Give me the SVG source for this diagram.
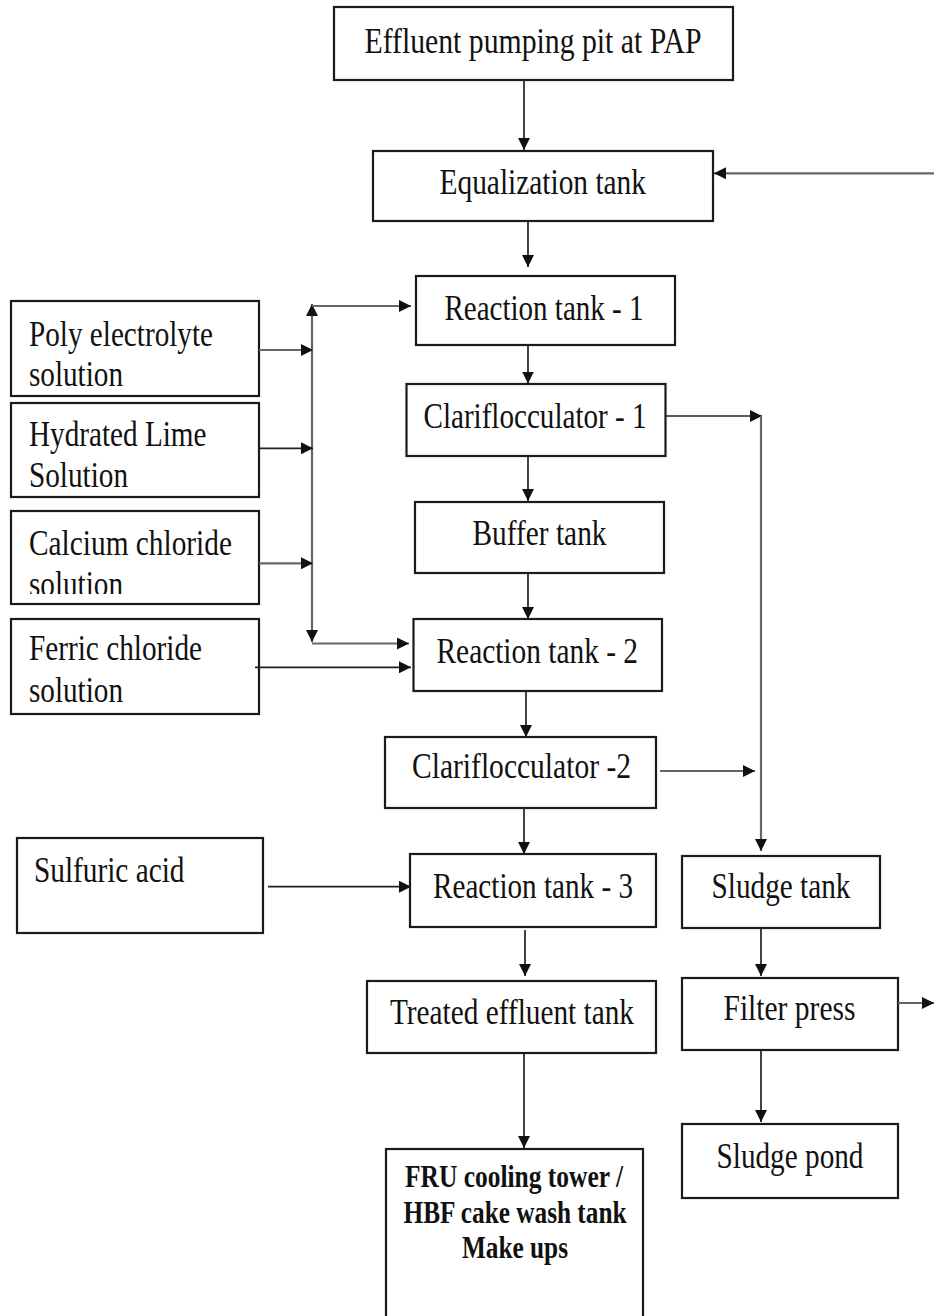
<svg xmlns="http://www.w3.org/2000/svg" width="934" height="1316" viewBox="0 0 934 1316">
<style>
.box{fill:#fff;stroke:#1a1a1a;stroke-width:2.2}
.t{font-size:36px;fill:#111}
.b{font-weight:bold;font-size:32px;text-anchor:middle}
.c{fill:none;stroke:#222;stroke-width:1.7;marker-end:url(#ah)}
.g{fill:none;stroke:#666;stroke-width:2.2;marker-end:url(#ah)}
</style>
<defs>
<marker id="ah" markerUnits="userSpaceOnUse" markerWidth="13" markerHeight="12" viewBox="0 0 13 12" refX="12" refY="6" orient="auto-start-reverse">
<path d="M0,0 L12,6 L0,12 Z" fill="#111"/>
</marker>
<clipPath id="clipCa"><rect x="11" y="511" width="248" height="83"/></clipPath>
</defs>
<g id="diagram" font-family="Liberation Serif">
<g id="n-effluent"><rect class="box" x="334" y="7" width="399" height="73"/><text class="t" x="364.5" y="53" textLength="337" lengthAdjust="spacingAndGlyphs">Effluent pumping pit at PAP</text></g>
<g id="n-equalization"><rect class="box" x="373" y="151" width="340" height="70"/><text class="t" x="439.5" y="194" textLength="206.5" lengthAdjust="spacingAndGlyphs">Equalization tank</text></g>
<g id="n-rt1"><rect class="box" x="416" y="276" width="259" height="69"/><text class="t" x="444.5" y="320" textLength="199" lengthAdjust="spacingAndGlyphs">Reaction tank - 1</text></g>
<g id="n-c1"><rect class="box" x="406.5" y="384" width="259" height="72"/><text class="t" x="423.5" y="428" textLength="223" lengthAdjust="spacingAndGlyphs">Clariflocculator - 1</text></g>
<g id="n-buffer"><rect class="box" x="415" y="502" width="249" height="71"/><text class="t" x="472.5" y="545" textLength="134" lengthAdjust="spacingAndGlyphs">Buffer tank</text></g>
<g id="n-rt2"><rect class="box" x="413.5" y="619" width="248.5" height="72"/><text class="t" x="436.5" y="663" textLength="201.5" lengthAdjust="spacingAndGlyphs">Reaction tank - 2</text></g>
<g id="n-c2"><rect class="box" x="385" y="737" width="271" height="71"/><text class="t" x="412" y="778" textLength="219" lengthAdjust="spacingAndGlyphs">Clariflocculator -2</text></g>
<g id="n-rt3"><rect class="box" x="410" y="854" width="246" height="73"/><text class="t" x="433" y="898" textLength="200" lengthAdjust="spacingAndGlyphs">Reaction tank - 3</text></g>
<g id="n-treated"><rect class="box" x="367" y="981" width="289" height="72"/><text class="t" x="390" y="1024" textLength="244" lengthAdjust="spacingAndGlyphs">Treated effluent tank</text></g>
<g id="n-fru"><rect class="box" x="386" y="1149" width="257" height="190"/>
<text class="t b" x="514" y="1186.7" textLength="218" lengthAdjust="spacingAndGlyphs">FRU cooling tower /</text>
<text class="t b" x="515" y="1223.3" textLength="223" lengthAdjust="spacingAndGlyphs">HBF cake wash tank</text>
<text class="t b" x="515" y="1258.3" textLength="106" lengthAdjust="spacingAndGlyphs">Make ups</text></g>
<g id="n-sludgetank"><rect class="box" x="682" y="856" width="198" height="72"/><text class="t" x="711.5" y="898" textLength="139" lengthAdjust="spacingAndGlyphs">Sludge tank</text></g>
<g id="n-filterpress"><rect class="box" x="682" y="978" width="216" height="72"/><text class="t" x="723.5" y="1020" textLength="132" lengthAdjust="spacingAndGlyphs">Filter press</text></g>
<g id="n-sludgepond"><rect class="box" x="682" y="1124" width="216" height="74"/><text class="t" x="716.5" y="1168" textLength="147" lengthAdjust="spacingAndGlyphs">Sludge pond</text></g>
<g id="n-poly"><rect class="box" x="11" y="301" width="248" height="95"/><text class="t" x="29" y="345.7" textLength="184" lengthAdjust="spacingAndGlyphs">Poly electrolyte</text><text class="t" x="29" y="386" textLength="94" lengthAdjust="spacingAndGlyphs">solution</text></g>
<g id="n-lime"><rect class="box" x="11" y="403" width="248" height="94"/><text class="t" x="29" y="445.7" textLength="177.5" lengthAdjust="spacingAndGlyphs">Hydrated Lime</text><text class="t" x="29" y="487.3" textLength="99" lengthAdjust="spacingAndGlyphs">Solution</text></g>
<g id="n-calcium"><rect class="box" x="11" y="511" width="248" height="93"/><text class="t" x="29" y="555" textLength="203" lengthAdjust="spacingAndGlyphs">Calcium chloride</text><text class="t" x="29" y="596" textLength="94" lengthAdjust="spacingAndGlyphs" clip-path="url(#clipCa)">solution</text></g>
<g id="n-ferric"><rect class="box" x="11" y="619" width="248" height="95"/><text class="t" x="29" y="660" textLength="173" lengthAdjust="spacingAndGlyphs">Ferric chloride</text><text class="t" x="29" y="701.7" textLength="94" lengthAdjust="spacingAndGlyphs">solution</text></g>
<g id="n-sulfuric"><rect class="box" x="17" y="838" width="246" height="95"/><text class="t" x="34" y="881.7" textLength="150.5" lengthAdjust="spacingAndGlyphs">Sulfuric acid</text></g>
</g>
<g id="connectors">
<path class="c" d="M524,80 V150"/>
<path class="g" d="M934,173.3 H714"/>
<path class="c" d="M528,221 V267"/>
<path class="c" d="M528,345 V383.5"/>
<path class="c" d="M528,456 V501"/>
<path class="c" d="M528,573 V619"/>
<path class="c" d="M526,691 V737"/>
<path class="c" d="M524,808 V854"/>
<path class="c" d="M525,930 V976"/>
<path class="c" d="M524,1053 V1148"/>
<path class="c" d="M666,416 H762"/>
<path class="g" d="M761,416 V851"/>
<path class="g" d="M660,771 H755"/>
<path class="c" d="M761,928 V976"/>
<path class="c" d="M761,1050 V1122"/>
<path class="g" d="M898,1003 H934"/>
<path class="g" d="M312,304 V642" style="marker-start:url(#ah)"/>
<path class="g" d="M312,306 H411"/>
<path class="g" d="M312,643.5 H409"/>
<path class="g" d="M259,350 H313"/>
<path class="c" d="M259,448.3 H313"/>
<path class="g" d="M259,563.3 H313"/>
<path class="c" d="M255,667.3 H411"/>
<path class="c" d="M268,886.7 H411"/>
</g>
</svg>
